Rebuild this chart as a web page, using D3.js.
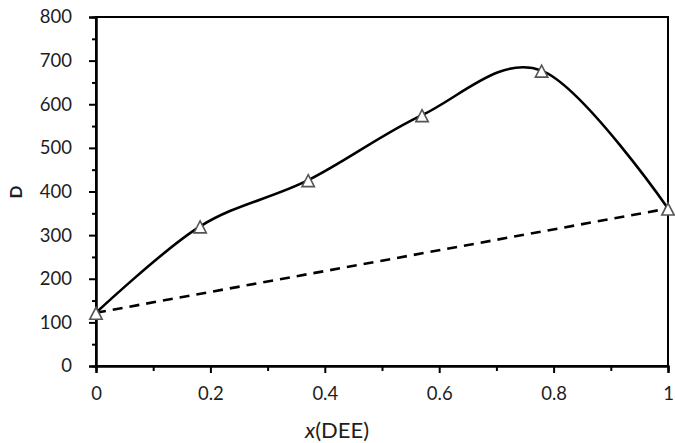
<!DOCTYPE html>
<html><head><meta charset="utf-8">
<script src="https://cdn.jsdelivr.net/npm/d3@7"></script>
<style>
html,body{margin:0;padding:0;background:#fff;}
text{font-family:Lato,"Open Sans",sans-serif;}
</style></head>
<body>
<svg id="chart" width="675" height="443"></svg>
<script>
const xValues = [0, 0.182, 0.371, 0.57, 0.779, 1];
const dValues = [122, 320, 426, 575, 677, 361];
const idealX = [0, 1];
const idealD = [122, 361];
const xTicks = [0, 0.2, 0.4, 0.6, 0.8, 1];
const xMinorTicks = [0.1, 0.3, 0.5, 0.7, 0.9];
const yTicks = [0, 100, 200, 300, 400, 500, 600, 700, 800];
const yMinorTicks = [50, 150, 250, 350, 450, 550, 650, 750];

const svg = d3.select("#chart");
const L = 96, R = 668, T = 17, B = 366;
const x = d3.scaleLinear().domain([0, 1]).range([L, R]);
const y = d3.scaleLinear().domain([0, 800]).range([B, T]);

// box
svg.append("rect").attr("x", L).attr("y", T).attr("width", R - L).attr("height", B - T)
  .attr("fill", "none").attr("stroke", "#000").attr("stroke-width", 2);

// y axis
const yAx = svg.append("g").attr("transform", `translate(${L},0)`)
  .call(d3.axisLeft(y).tickValues(yTicks).tickSize(7).tickPadding(17).tickFormat(d3.format("d")));
const yMin = svg.append("g").attr("transform", `translate(${L},0)`)
  .call(d3.axisLeft(y).tickValues(yMinorTicks).tickSize(4).tickFormat(""));
// x axis
const xAx = svg.append("g").attr("transform", `translate(0,${B})`)
  .call(d3.axisBottom(x).tickValues(xTicks).tickSize(7).tickPadding(14).tickFormat(d => d3.format("~g")(d)));
const xMin = svg.append("g").attr("transform", `translate(0,${B})`)
  .call(d3.axisBottom(x).tickValues(xMinorTicks).tickSize(5).tickFormat(""));
[yAx, yMin, xAx, xMin].forEach(g => {
  g.select(".domain").attr("stroke", "#000").attr("stroke-width", 2);
  g.selectAll(".tick line").attr("stroke", "#000").attr("stroke-width", 2);
  g.selectAll(".tick text").attr("fill", "#1e1e1e").style("font-size", "18.5px").style("font-family", "Lato");
});

// ideal dashed line
const pts = xValues.map((v, i) => [v, dValues[i]]);
const ideal = idealX.map((v, i) => [v, idealD[i]]);
svg.append("path").datum(ideal)
  .attr("d", d3.line().x(d => x(d[0])).y(d => y(d[1])))
  .attr("fill", "none").attr("stroke", "#000").attr("stroke-width", 2.6)
  .attr("stroke-dasharray", "10,7");

// smooth curve
svg.append("path").datum(pts)
  .attr("d", d3.line().x(d => x(d[0])).y(d => y(d[1])).curve(d3.curveCardinal.tension(0)))
  .attr("fill", "none").attr("stroke", "#000").attr("stroke-width", 2.6);

// markers
svg.append("g").selectAll("path").data(pts).join("path")
  .attr("d", "M0,-5.5L6.2,6.5L-6.2,6.5Z")
  .attr("transform", d => `translate(${x(d[0])},${y(d[1])})`)
  .attr("fill", "#fff").attr("stroke", "#555").attr("stroke-width", 1.6);

// titles
const xt = svg.append("text").attr("x", 337).attr("y", 438).attr("text-anchor", "middle")
  .style("font-size", "22px").attr("fill", "#1e1e1e");
xt.append("tspan").style("font-style", "italic").text("x");
xt.append("tspan").text("(DEE)");
svg.append("text").attr("transform", "translate(22,192) rotate(-90)").attr("text-anchor", "middle")
  .style("font-size", "17px").style("font-weight", "bold").attr("fill", "#1e1e1e").text("D");
</script>
</body></html>
